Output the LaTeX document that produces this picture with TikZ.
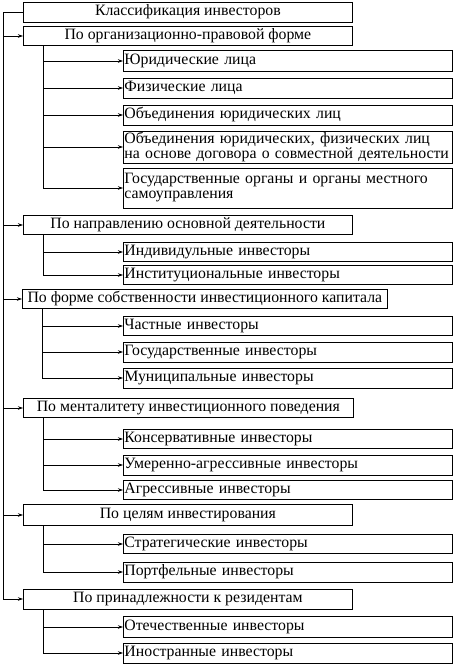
\documentclass[tikz,border=0pt]{standalone}
\usepackage{fontspec}
\setmainfont{Liberation Serif}
\usetikzlibrary{arrows.meta,positioning,calc}
\tikzset{
  box/.style={draw=black,line width=.8pt,inner sep=0pt,minimum height=19pt,font=\fontsize{15.8}{15}\selectfont},
  cat/.style={box,minimum width=329pt,align=center},
  leaf/.style={box,text width=327pt,inner xsep=1pt,align=left},
  ln/.style={draw=black,line width=.8pt},
  ar/.style={ln,-{Stealth[length=5pt,width=3.5pt]}},
}
\begin{document}
\begin{tikzpicture}[x=1pt,y=-1pt]
  \useasboundingbox (0,0) rectangle (453,664);
  % header and groups
  \node[cat,anchor=west,minimum height=20pt] (top) at (23,12) {Классификация инвесторов};
  \node[cat,anchor=west] (c1) at (23,36) {По организационно-правовой форме};
  \node[cat,anchor=west] (c2) at (23,225) {По направлению основной деятельности};
  \node[cat,anchor=west,minimum width=365pt] (c3) at (22,299) {По форме собственности инвестиционного капитала};
  \node[cat,anchor=west,minimum width=330pt] (c4) at (23,408) {По менталитету инвестиционного поведения};
  \node[cat,anchor=west,minimum height=21pt] (c5) at (23,515) {По целям инвестирования};
  \node[cat,anchor=west,minimum height=20pt] (c6) at (23,599) {По принадлежности к резидентам};
  % leaves
  \node[leaf,anchor=west,minimum height=21pt] (l11) at (123,61) {Юридические лица};
  \node[leaf,anchor=west,minimum height=20pt] (l12) at (123,88) {Физические лица};
  \node[leaf,anchor=west,minimum height=20pt] (l13) at (123,115) {Объединения юридических лиц};
  \node[leaf,anchor=west,minimum height=32pt] (l14) at (123,147) {Объединения юридических, физических лиц\\на основе договора о совместной деятельности};
  \node[leaf,anchor=west,minimum height=40pt] (l15) at (123,188) {Государственные органы и органы местного\\самоуправления};
  \node[leaf,anchor=west] (l21) at (123,252) {Индивидульные инвесторы};
  \node[leaf,anchor=west] (l22) at (123,275) {Институциональные инвесторы};
  \node[leaf,anchor=west] (l31) at (123,326) {Частные инвесторы};
  \node[leaf,anchor=west,minimum height=20pt] (l32) at (123,352) {Государственные инвесторы};
  \node[leaf,anchor=west,minimum height=20pt] (l33) at (123,378) {Муниципальные инвесторы};
  \node[leaf,anchor=west] (l41) at (123,439) {Консервативные инвесторы};
  \node[leaf,anchor=west,minimum height=20pt] (l42) at (123,465) {Умеренно-агрессивные инвесторы};
  \node[leaf,anchor=west] (l43) at (123,490) {Агрессивные инвесторы};
  \node[leaf,anchor=west] (l51) at (123,544) {Стратегические инвесторы};
  \node[leaf,anchor=west,minimum height=20pt] (l52) at (123,572) {Портфельные инвесторы};
  \node[leaf,anchor=west,minimum height=21pt] (l61) at (123,627) {Отечественные инвесторы};
  \node[leaf,anchor=west,minimum height=20pt] (l62) at (123,653) {Иностранные инвесторы};
  % main spine
  \coordinate (m) at ($(top.west)+(-20,0)$);
  \draw[ln] (top.west) -- (m) -- (m |- c6.west);
  \foreach \c in {c1,c2,c3,c4,c5,c6} \draw[ar] (m |- \c.west) -- (\c.west);
  % branches
  \foreach \c/\ls in {c1/{l11,l12,l13,l14,l15},c2/{l21,l22},c3/{l31,l32,l33},c4/{l41,l42,l43},c5/{l51,l52},c6/{l61,l62}}{
    \coordinate (s) at ($(\c.south west)+(20,0)$);
    \foreach \l in \ls \draw[ar] (s) |- (\l.west);
  }
\end{tikzpicture}
\end{document}
